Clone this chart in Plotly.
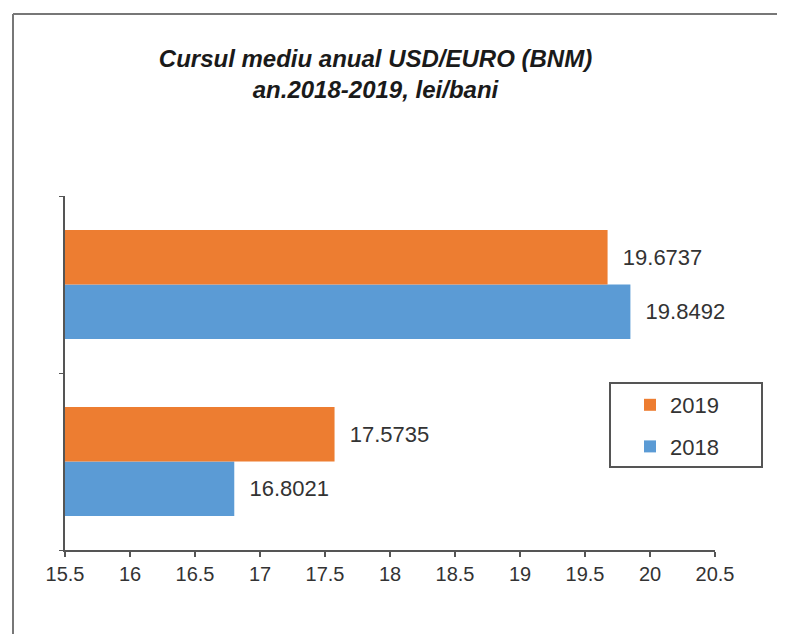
import plotly.graph_objects as go

categories = ["USD", "EURO"]
values_2018 = [16.8021, 19.8492]
values_2019 = [17.5735, 19.6737]
x_ticks = [15.5, 16, 16.5, 17, 17.5, 18, 18.5, 19, 19.5, 20, 20.5]
x_tick_labels = ["15.5", "16", "16.5", "17", "17.5", "18", "18.5", "19", "19.5", "20", "20.5"]
colors = {"2018": "#5B9BD5", "2019": "#ED7D31"}
legend_rank = {"2019": 1, "2018": 2}

# page body has an 8px margin; figure is sized to fill the rest of the window
OFF = 8
W, H = 785 - OFF, 634 - OFF
ml, mr, mt, mb = 65 - OFF, W - (715 - OFF), 196 - OFF, H - (550 - OFF)
pw, ph = W - ml - mr, H - mt - mb

FONT = "Liberation Sans, Arial, sans-serif"

fig = go.Figure()
for yr, vals in (("2018", values_2018), ("2019", values_2019)):
    fig.add_trace(go.Bar(
        y=categories, x=vals, orientation="h", name=yr, legendgroup=yr,
        legendrank=legend_rank[yr],
        marker=dict(color=colors[yr], line=dict(width=0)),
        text=[f"{v:.4f}" for v in vals],
        texttemplate="  %{text}",
        textposition="outside",
        textfont=dict(family=FONT, size=22, color="#333"),
        cliponaxis=False,
    ))

def px_x(p):
    p -= OFF
    return (p - ml) / pw

def px_y(p):
    p -= OFF
    return (H - mb - p) / ph

fig.update_layout(
    width=W, height=H,
    margin=dict(l=ml, r=mr, t=mt, b=mb, autoexpand=False),
    paper_bgcolor="white", plot_bgcolor="white",
    barmode="group", bargap=0.385, bargroupgap=0,
    font=dict(family=FONT, size=20, color="#333"),
    title=dict(
        text="<b><i>Cursul mediu anual USD/EURO (BNM)<br>an.2018-2019, lei/bani</i></b>",
        x=(375.5 - OFF) / W, xanchor="center", xref="container",
        y=1 - (67 - OFF) / H, yanchor="middle", yref="container",
        font=dict(family=FONT, size=24, color="#1a1a1a"),
    ),
    xaxis=dict(
        range=[15.5, 20.5], tickvals=x_ticks, ticktext=x_tick_labels,
        showgrid=False, zeroline=False,
        showline=True, linecolor="#555", linewidth=2,
        ticks="outside", ticklen=5, tickcolor="#555", tickwidth=1.5,
        tickfont=dict(family=FONT, size=20, color="#333"),
    ),
    yaxis=dict(
        showticklabels=False, showgrid=False, zeroline=False,
        showline=True, linecolor="#555", linewidth=2,
        ticks="outside", ticklen=4, tickcolor="#555", tickson="boundaries",
    ),
    legend=dict(
        x=px_x(630), y=px_y(384), xanchor="left", yanchor="top",
        traceorder="grouped", tracegroupgap=10,
        borderwidth=0, bgcolor="rgba(0,0,0,0)",
        font=dict(family=FONT, size=22, color="#333"),
        itemwidth=30,
    ),
    showlegend=True,
)

# legend frame
fig.add_shape(type="rect", xref="paper", yref="paper",
              x0=px_x(610), x1=px_x(762), y0=px_y(467), y1=px_y(383),
              line=dict(color="#555", width=2), fillcolor="white", layer="below")

# chart border (left and top edges)
fig.add_shape(type="line", xref="paper", yref="paper",
              x0=px_x(13), x1=px_x(13), y0=px_y(14), y1=px_y(640),
              line=dict(color="#777", width=2))
fig.add_shape(type="line", xref="paper", yref="paper",
              x0=px_x(13), x1=px_x(790), y0=px_y(14), y1=px_y(14),
              line=dict(color="#777", width=2))

fig.write_html("out.html")
